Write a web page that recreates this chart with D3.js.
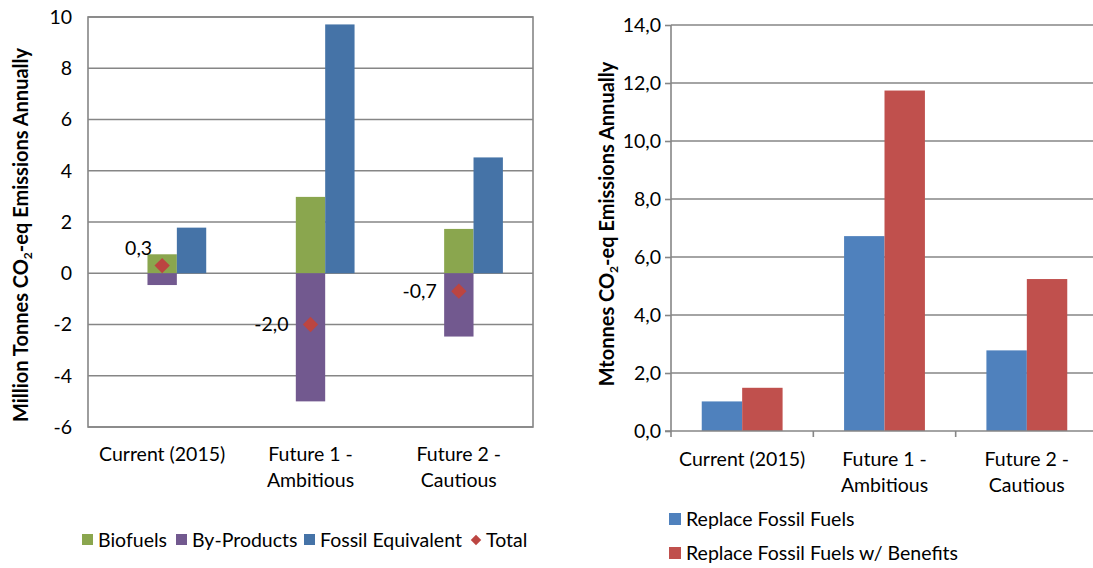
<!DOCTYPE html>
<html>
<head>
<meta charset="utf-8">
<script src="https://cdn.jsdelivr.net/npm/d3@7"></script>
<style>
  body { margin: 0; background: #fff; }
  text { font-family: Lato, "Open Sans", sans-serif; fill: #000; }
  .grid line { stroke: #868686; stroke-width: 1.6; }
</style>
</head>
<body>
<div id="chart-area"></div>
<script>
// categories shared by both charts
let categories = ["Current (2015)", "Future 1 - Ambitious", "Future 2 - Cautious"];
let categoryLines = [["Current (2015)"], ["Future 1 -", "Ambitious"], ["Future 2 -", "Cautious"]];

// left chart values (million tonnes)
let biofuels = [0.74, 2.98, 1.73];
let byProducts = [-0.46, -5.0, -2.47];
let fossilEquivalent = [1.78, 9.71, 4.52];
let total = [0.3, -2.0, -0.7];
let leftTicks = [-6, -4, -2, 0, 2, 4, 6, 8, 10];

// right chart values (Mtonnes)
let replaceFossil = [1.02, 6.72, 2.78];
let replaceFossilBenefits = [1.49, 11.74, 5.24];
let rightTicks = [0, 2, 4, 6, 8, 10, 12, 14];

let commaLocale = d3.formatLocale({decimal: ",", thousands: ".", grouping: [3], currency: ["", ""], minus: "-"});
let fmt1 = commaLocale.format(".1f");

let FS = "19.5px";
let TITLE_FS = "20px";

let svg = d3.select("#chart-area").append("svg")
	.attr("width", 1093)
	.attr("height", 568);

// ---------- left chart ----------
let xL = d3.scaleBand().domain(categories).range([88, 533]);
let yL = d3.scaleLinear().domain([-6, 10]).range([427, 17]);
let left = svg.append("g");

left.append("g").classed("grid", true)
	.selectAll("line").data(leftTicks).enter().append("line")
	.attr("x1", 88).attr("x2", 533)
	.attr("y1", d => yL(d)).attr("y2", d => yL(d));

left.append("rect")
	.attr("x", 88).attr("y", yL(10))
	.attr("width", 533 - 88).attr("height", yL(-6) - yL(10))
	.style("fill", "none").style("stroke", "#868686").style("stroke-width", 1.6);

left.selectAll(".ytick").data(leftTicks).enter().append("text")
	.attr("x", 72).attr("y", d => yL(d)).attr("dy", "0.35em")
	.attr("text-anchor", "end").style("font-size", FS)
	.text(d => d);

let bwL = xL.bandwidth() * 0.198;
let cx = (d, i) => xL(categories[i]) + xL.bandwidth() / 2;

left.selectAll(".bio").data(biofuels).enter().append("rect")
	.attr("x", (d, i) => cx(d, i) - bwL / 2)
	.attr("y", d => yL(d)).attr("width", bwL)
	.attr("height", d => yL(0) - yL(d))
	.style("fill", "#8AA64E");

left.selectAll(".byp").data(byProducts).enter().append("rect")
	.attr("x", (d, i) => cx(d, i) - bwL / 2)
	.attr("y", yL(0)).attr("width", bwL)
	.attr("height", d => yL(d) - yL(0))
	.style("fill", "#72598F");

left.selectAll(".fos").data(fossilEquivalent).enter().append("rect")
	.attr("x", (d, i) => cx(d, i) + bwL / 2)
	.attr("y", d => yL(d)).attr("width", bwL)
	.attr("height", d => yL(0) - yL(d))
	.style("fill", "#4573A7");

let diamond = d3.symbol().type(d3.symbolDiamond2).size(150);
left.selectAll(".tot").data(total).enter().append("path")
	.attr("d", diamond)
	.attr("transform", (d, i) => "translate(" + cx(d, i) + "," + yL(d) + ")")
	.style("fill", "#BC4541");

// label nudges (Excel placed the first label higher and closer)
let labelDx = [-10, -22, -22];
let labelDy = [-17, 0, 0];
left.selectAll(".totlab").data(total).enter().append("text")
	.attr("x", (d, i) => cx(d, i) + labelDx[i])
	.attr("y", (d, i) => yL(d) + labelDy[i]).attr("dy", "0.35em")
	.attr("text-anchor", "end").style("font-size", FS)
	.text(d => fmt1(d));

categoryLines.forEach((lines, i) => {
	let t = left.append("text")
		.attr("text-anchor", "middle").style("font-size", FS)
		.attr("x", xL(categories[i]) + xL.bandwidth() / 2)
		.attr("y", 461);
	lines.forEach((l, j) => t.append("tspan")
		.attr("x", xL(categories[i]) + xL.bandwidth() / 2)
		.attr("dy", j === 0 ? 0 : 26).text(l));
});

let leftTitle = left.append("text")
	.attr("transform", "translate(28,235) rotate(-90)")
	.attr("text-anchor", "middle")
	.style("font-size", TITLE_FS).style("font-weight", "bold");
leftTitle.append("tspan").text("Million Tonnes CO");
leftTitle.append("tspan").attr("dy", 4).style("font-size", "12px").text("2");
leftTitle.append("tspan").attr("dy", -4).text("-eq Emissions Annually");

// left legend
let legL = [
	{name: "Biofuels", color: "#8AA64E", x: 82, type: "rect"},
	{name: "By-Products", color: "#72598F", x: 176, type: "rect"},
	{name: "Fossil Equivalent", color: "#4573A7", x: 304, type: "rect"},
	{name: "Total", color: "#BC4541", x: 470, type: "diamond"}
];
legL.forEach(l => {
	if (l.type === "rect") {
		left.append("rect").attr("x", l.x).attr("y", 534).attr("width", 11).attr("height", 11).style("fill", l.color);
	} else {
		left.append("path").attr("d", d3.symbol().type(d3.symbolDiamond2).size(70))
			.attr("transform", "translate(" + (l.x + 6) + ",540)").style("fill", l.color);
	}
	left.append("text").attr("x", l.x + 16).attr("y", 540).attr("dy", "0.35em")
		.style("font-size", FS).text(l.name);
});

// ---------- right chart ----------
let xR = d3.scaleBand().domain(categories).range([671, 1098]);
let yR = d3.scaleLinear().domain([0, 14]).range([431, 25]);
let right = svg.append("g");

right.append("g").classed("grid", true)
	.selectAll("line").data(rightTicks.slice(1)).enter().append("line")
	.attr("x1", 671).attr("x2", 1098)
	.attr("y1", d => yR(d)).attr("y2", d => yR(d));

let bwR = xR.bandwidth() * 0.284;
let cxR = i => xR(categories[i]) + xR.bandwidth() / 2;

right.selectAll(".rf").data(replaceFossil).enter().append("rect")
	.attr("x", (d, i) => cxR(i) - bwR)
	.attr("y", d => yR(d)).attr("width", bwR)
	.attr("height", d => yR(0) - yR(d))
	.style("fill", "#4F81BD");

right.selectAll(".rfb").data(replaceFossilBenefits).enter().append("rect")
	.attr("x", (d, i) => cxR(i))
	.attr("y", d => yR(d)).attr("width", bwR)
	.attr("height", d => yR(0) - yR(d))
	.style("fill", "#C0504D");

let yAxisR = right.append("g")
	.attr("transform", "translate(671,0)")
	.call(d3.axisLeft(yR).tickValues(rightTicks).tickSize(6).tickPadding(4).tickFormat(fmt1));
yAxisR.selectAll("line, path").style("stroke", "#868686").style("stroke-width", 1.6);
yAxisR.select(".domain").attr("d", "M0," + yR(14) + "V" + yR(0));
yAxisR.selectAll("text").style("font-size", FS).style("font-family", "Lato, 'Open Sans', sans-serif").attr("fill", "#000");

let xAxisR = right.append("g")
	.attr("transform", "translate(0," + yR(0) + ")");
xAxisR.append("line").attr("x1", 665).attr("x2", 1098)
	.style("stroke", "#868686").style("stroke-width", 1.6);
xAxisR.selectAll(".tk").data(categories).enter().append("line")
	.attr("x1", d => xR(d)).attr("x2", d => xR(d))
	.attr("y1", 0).attr("y2", 6)
	.style("stroke", "#868686").style("stroke-width", 1.6);

categoryLines.forEach((lines, i) => {
	let t = right.append("text")
		.attr("text-anchor", "middle").style("font-size", FS)
		.attr("x", cxR(i)).attr("y", 466);
	lines.forEach((l, j) => t.append("tspan")
		.attr("x", cxR(i)).attr("dy", j === 0 ? 0 : 26).text(l));
});

let rightTitle = right.append("text")
	.attr("transform", "translate(614,224) rotate(-90)")
	.attr("text-anchor", "middle")
	.style("font-size", TITLE_FS).style("font-weight", "bold");
rightTitle.append("tspan").text("Mtonnes CO");
rightTitle.append("tspan").attr("dy", 4).style("font-size", "12px").text("2");
rightTitle.append("tspan").attr("dy", -4).text("-eq Emissions Annually");

// right legend
let legR = [
	{name: "Replace Fossil Fuels", color: "#4F81BD", y: 519},
	{name: "Replace Fossil Fuels w/ Benefits", color: "#C0504D", y: 553}
];
legR.forEach(l => {
	right.append("rect").attr("x", 669).attr("y", l.y - 6).attr("width", 12).attr("height", 12).style("fill", l.color);
	right.append("text").attr("x", 686).attr("y", l.y).attr("dy", "0.35em")
		.style("font-size", FS).text(l.name);
});
</script>
</body>
</html>
